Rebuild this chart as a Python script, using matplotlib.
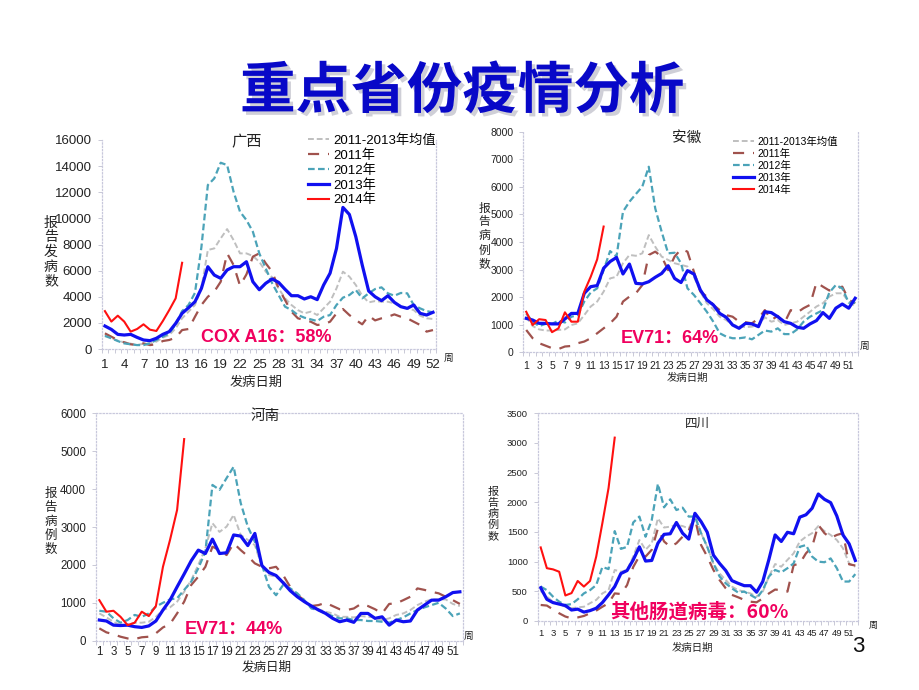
import numpy as np
import matplotlib
matplotlib.use("Agg")
import matplotlib.pyplot as plt
import matplotlib.patheffects as pe

plt.rcParams['font.family'] = ['Liberation Sans', 'Noto Sans CJK SC', 'DejaVu Sans']

weeks = list(range(1, 53))
weeks_2014 = list(range(1, 14))
series_labels = ['2011-2013年均值', '2011年', '2012年', '2013年', '2014年']

# ---------------- 广西 ----------------
gx_avg = [1070,820,640,510,410,300,410,430,560,870,1070,1580,2350,2860,3370,4640,7580,7700,8470,9180,8340,7320,7320,7120,6680,5920,5490,4640,3880,3370,2980,2730,2860,2600,3110,3620,4640,5920,5540,4900,4080,3570,3670,3620,3620,3490,3290,3110,2980,2550,2350,2300]
gx_2011 = [1200,940,690,510,360,300,430,300,360,610,690,870,1450,1530,2470,3370,4000,4390,5150,7320,6430,4850,5710,7070,7320,6560,5920,4640,3750,2860,2350,2220,2090,1840,1890,2090,2730,3060,2600,2220,1890,2550,2190,2350,2470,2650,2470,2350,2090,1840,1330,1450]
gx_2012 = [1000,820,610,430,360,300,300,430,690,940,1200,1890,2900,3370,4300,7800,12550,13060,14260,14080,12040,10510,9870,8980,7320,6170,5030,4130,3240,2980,2600,2400,2270,2140,2470,2600,3370,3930,4130,4520,3880,4260,4590,4720,4260,4080,4290,4260,3370,3110,2900,2810]
gx_2013 = [1760,1500,1120,1070,1120,890,690,640,820,1120,1330,1960,2730,3160,3620,4640,6300,5660,5410,6050,6300,6300,6680,5150,4540,5030,5360,5100,4570,4080,4080,3830,4000,3780,4900,5800,7700,10840,10300,8600,6430,4440,4000,3700,4080,3570,3240,3110,3370,2730,2600,2810]
gx_2014 = [2900,2100,2550,2100,1330,1530,1890,1480,1380,2140,2980,3880,6600]

# ---------------- 安徽 ----------------
ah_avg = [1290,950,830,790,790,810,830,990,1050,1350,1660,1840,2200,2680,2740,3230,3530,3500,3590,4250,3830,3470,3350,3230,3170,3110,2740,2200,1780,1560,1290,1170,990,950,910,930,990,1270,1110,1170,990,1050,1110,1290,1470,1660,1780,2020,2140,2140,1840,1660]
ah_2011 = [810,510,330,240,150,120,210,230,330,390,510,690,870,1050,1290,1840,2020,2140,2440,3530,3650,3470,2980,3470,3740,3650,2920,2200,2020,1720,1530,1350,1290,1110,1090,1050,1230,1530,1170,1320,1050,1530,1440,1600,1720,2530,2380,2240,2320,2380,1900,1780]
ah_2012 = [1410,1110,950,1030,1030,1150,1080,1290,1350,1840,2170,2320,2980,3670,3470,5100,5460,5740,6010,6730,5220,4370,3590,3610,3230,2320,2080,1780,1470,1110,690,570,510,510,540,470,630,790,750,870,660,660,830,1110,1290,1410,1530,2170,2440,2320,1800,1800]
ah_2013 = [1230,1170,1050,1050,1030,1030,1210,1410,1410,2140,2380,2420,3050,3290,3440,2840,3200,2500,2480,2560,2720,2860,3140,2680,2530,2960,2840,2260,1900,1720,1410,1270,990,870,1050,1030,930,1470,1440,1290,1110,1050,910,870,1030,1150,1440,1230,1600,1750,1600,1960]
ah_2014 = [1470,990,1200,1170,730,870,1450,1110,1110,2200,2740,3370,4560]

# ---------------- 河南 ----------------
hn_avg = [720,615,500,410,410,475,475,500,630,810,880,1030,1290,1600,2000,2440,3100,2870,3010,3320,2790,2660,2520,1950,1730,1690,1560,1380,1200,1030,900,830,765,720,630,630,615,650,630,615,545,590,680,720,810,940,1030,1090,1090,1090,970,915]
hn_2011 = [325,220,170,105,60,45,90,105,195,350,440,720,1030,1470,1690,1950,2480,2390,2260,2570,2390,2230,2040,1950,1910,1950,1730,1420,1200,1070,915,940,1000,915,830,810,850,970,915,830,720,970,985,1070,1160,1380,1340,1290,1250,1160,1070,970]
hn_2012 = [790,765,590,475,545,680,630,720,900,1000,1090,1120,1340,1560,1910,2350,4110,3980,4290,4590,3630,3010,2610,2000,1420,1200,1470,1380,1250,1070,850,810,720,650,590,590,545,545,520,520,500,475,545,615,720,810,880,940,1000,850,650,720]
hn_2013 = [545,520,410,400,410,370,350,390,520,810,1070,1420,1760,2110,2390,2300,2680,2300,2320,2790,2760,2510,2830,1980,1800,1720,1530,1320,1160,1030,915,810,720,590,500,545,485,720,720,590,630,410,545,500,520,810,940,1070,1070,1160,1270,1290]
hn_2014 = [1070,765,790,630,410,475,765,650,915,1950,2660,3450,5320]

# ---------------- 四川 ----------------
sc_avg = [505,410,325,285,240,215,230,240,300,355,465,520,860,830,860,1085,1365,1200,1310,1730,1575,1590,1620,1600,1560,1785,1480,1250,970,800,690,580,520,495,465,410,495,750,960,915,1030,1140,1340,1420,1480,1600,1515,1450,1365,1225,970,915]
sc_2011 = [270,260,195,130,75,45,60,85,130,175,240,300,465,455,605,910,1095,1085,1200,1560,1340,1250,1310,1420,1530,1730,1280,1085,860,690,550,440,400,355,325,315,380,465,530,520,495,940,970,1140,1250,1620,1480,1400,1450,1480,955,935]
sc_2012 = [580,520,410,325,270,285,365,465,520,605,910,875,1515,1215,1250,1660,1760,1420,1700,2310,1915,2050,1870,1910,1760,1760,1480,1250,970,750,635,550,480,495,440,380,520,750,860,820,890,970,1250,1280,1085,1000,990,1055,890,665,665,790]
sc_2013 = [560,365,310,285,260,185,200,150,175,215,310,440,580,800,850,1030,1250,1010,1020,1310,1460,1470,1660,1480,1380,1815,1675,1495,1110,970,850,680,635,595,595,485,665,1040,1450,1340,1495,1470,1750,1790,1900,2140,2050,1995,1770,1450,1300,1020]
sc_2014 = [1240,890,870,830,430,470,675,580,675,1085,1650,2240,3090]

W, H = 920, 690
fig = plt.figure(figsize=(9.2, 6.9), dpi=100)
fig.patch.set_facecolor('white')

CJK = ['Noto Sans CJK SC', 'DejaVu Sans']
ANNOT_COLOR = '#F0005E'
STYLES = [
    dict(color='#BFBFBF', lw=1.4, ls=(0, (3, 1.5))),
    dict(color='#A0524D', lw=1.6, ls=(0, (5, 4))),
    dict(color='#4BA3B8', lw=1.6, ls=(0, (3, 1.5))),
    dict(color='#1010F0', lw=2.3, ls='-'),
    dict(color='#FF1010', lw=1.5, ls='-'),
]


def px_rect(left, right, top, bottom):
    return [left / W, 1 - bottom / H, (right - left) / W, (bottom - top) / H]


def panel(rect, series, ymax, ystep, xstep, tick_fs, show_top, xpad=6, legend=None):
    ax = fig.add_axes(rect)
    ax.set_facecolor('none')
    for s, st in zip(series, STYLES):
        x = weeks if len(s) == 52 else weeks_2014
        ax.plot(x, s, color=st['color'], lw=st['lw'], linestyle=st['ls'])
    ax.set_xlim(0.5, 52.5)
    ax.set_ylim(0, ymax)
    ax.set_yticks(np.arange(0, ymax + 1, ystep))
    ax.set_xticks(np.arange(1, 53, xstep))
    ax.set_xticks(np.arange(0.5, 53, 1), minor=True)
    ax.tick_params(axis='both', labelsize=tick_fs, colors='#333333', length=3,
                   width=0.6, direction='out')
    ax.tick_params(axis='x', which='major', length=0, pad=xpad)
    ax.tick_params(axis='x', which='minor', length=3, color='#C0C0D0', width=0.6)
    ax.tick_params(axis='y', color='#C0C0D0', pad=4)
    for name, sp in ax.spines.items():
        sp.set_color('#C8C8DC')
        sp.set_linestyle(':')
        sp.set_linewidth(0.9)
    ax.spines['top'].set_visible(show_top)
    for lab in ax.get_xticklabels() + ax.get_yticklabels():
        lab.set_color('#222222')
    if legend is not None:
        lx, ly, lfs, hl = legend
        ax.legend(series_labels, loc='upper left', bbox_to_anchor=(lx / W, 1 - ly / H),
                  bbox_transform=fig.transFigure, frameon=False,
                  handlelength=hl, handletextpad=0.3, labelspacing=0.18,
                  borderpad=0, borderaxespad=0,
                  prop={'family': ['Liberation Sans', 'Noto Sans CJK SC'], 'size': lfs})
    return ax


def ftext(x, y, s, **kw):
    return fig.text(x / W, 1 - y / H, s, **kw)


# Title
ftext(462, 92, '重点省份疫情分析', ha='center', va='center', fontsize=40,
      fontweight='bold', color='#0808C8', family=CJK,
      path_effects=[pe.SimplePatchShadow(offset=(2.5, -2.5), shadow_rgbFace='#A0A0B0', alpha=0.5), pe.Normal()])

# Panel 1: 广西
panel(px_rect(101.7, 436.2, 140, 349), [gx_avg, gx_2011, gx_2012, gx_2013, gx_2014],
      16000, 2000, 3, 9.5, False, xpad=7, legend=(308, 134, 9.5, 1.6))
ftext(247, 142, '广西', ha='center', va='center', fontsize=11, family=CJK, color='#222222')
ftext(51, 252, '报\n告\n发\n病\n数', ha='center', va='center', fontsize=10, family=CJK,
      linespacing=1.05, color='#222222')
ftext(256, 382, '发病日期', ha='center', va='center', fontsize=9.5, family=CJK, color='#222222')
ftext(449, 358, '周', ha='center', va='center', fontsize=7, family=CJK, color='#222222')
ftext(266, 337, 'COX A16：58%', ha='center', va='center', fontsize=13, fontweight='bold',
      color=ANNOT_COLOR, family=['Liberation Sans', 'Noto Sans CJK SC'])

# Panel 2: 安徽
panel(px_rect(523, 858.4, 131.7, 352.3), [ah_avg, ah_2011, ah_2012, ah_2013, ah_2014],
      8000, 1000, 2, 7.5, False, xpad=6, legend=(733, 137, 7.5, 2.0))
ftext(687, 138, '安徽', ha='center', va='center', fontsize=10.5, family=CJK, color='#222222')
ftext(484, 236, '报\n告\n病\n例\n数', ha='center', va='center', fontsize=8.5, family=CJK,
      linespacing=1.1, color='#222222')
ftext(687, 378, '发病日期', ha='center', va='center', fontsize=7.5, family=CJK, color='#222222')
ftext(865, 346, '周', ha='center', va='center', fontsize=7, family=CJK, color='#222222')
ftext(670, 338, 'EV71：64%', ha='center', va='center', fontsize=13, fontweight='bold',
      color=ANNOT_COLOR, family=['Liberation Sans', 'Noto Sans CJK SC'])

# Panel 3: 河南
panel(px_rect(95.8, 463.4, 413.3, 640.7), [hn_avg, hn_2011, hn_2012, hn_2013, hn_2014],
      6000, 1000, 2, 8.3, True, xpad=4)
ftext(265, 416, '河南', ha='center', va='center', fontsize=10.5, family=CJK, color='#222222')
ftext(51, 521, '报\n告\n病\n例\n数', ha='center', va='center', fontsize=9, family=CJK,
      linespacing=1.1, color='#222222')
ftext(267, 667, '发病日期', ha='center', va='center', fontsize=9, family=CJK, color='#222222')
ftext(469, 636, '周', ha='center', va='center', fontsize=7, family=CJK, color='#222222')
ftext(234, 629, 'EV71：44%', ha='center', va='center', fontsize=13, fontweight='bold',
      color=ANNOT_COLOR, family=['Liberation Sans', 'Noto Sans CJK SC'])

# Panel 4: 四川
panel(px_rect(537.6, 858.4, 413.3, 621), [sc_avg, sc_2011, sc_2012, sc_2013, sc_2014],
      3500, 500, 2, 6.8, True, xpad=6)
ftext(697, 423, '四川', ha='center', va='center', fontsize=9, family=CJK, color='#222222')
ftext(493, 514, '报\n告\n病\n例\n数', ha='center', va='center', fontsize=8, family=CJK,
      linespacing=1.1, color='#222222')
ftext(692, 648, '发病日期', ha='center', va='center', fontsize=7.5, family=CJK, color='#222222')
ftext(873, 625, '周', ha='center', va='center', fontsize=6.5, family=CJK, color='#222222')
ftext(699, 612, '其他肠道病毒：60%', ha='center', va='center', fontsize=14, fontweight='bold',
      color=ANNOT_COLOR, family=['Noto Sans CJK SC', 'Liberation Sans'])

# page number
ftext(858, 646, '3', ha='center', va='center', fontsize=16, color='#111111')

fig.savefig('out.png', dpi=100, facecolor='white')
